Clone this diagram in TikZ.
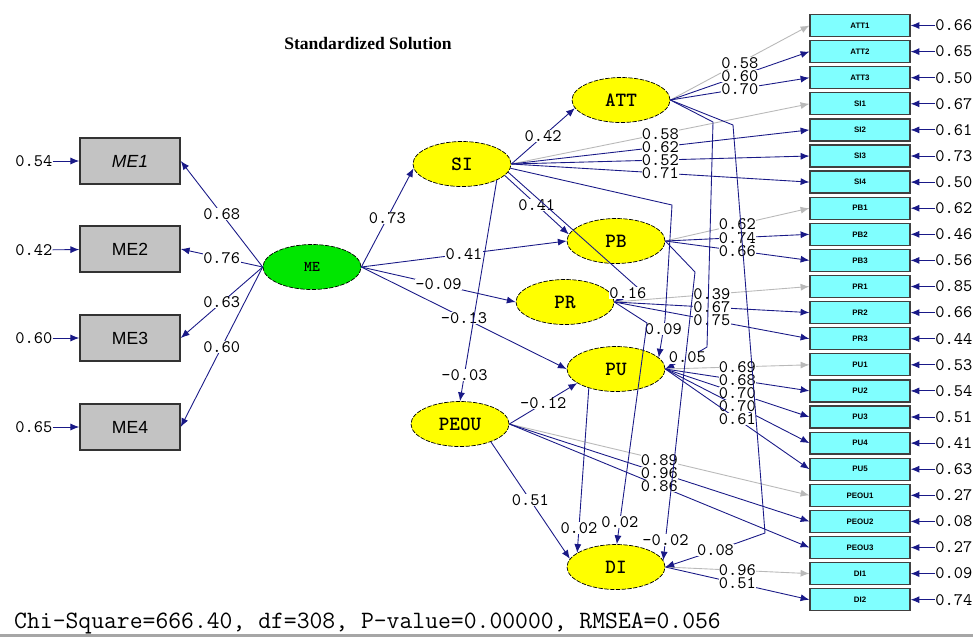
\documentclass[tikz,border=0pt]{standalone}
\usepackage{fontspec}
\setmainfont{Liberation Serif}
\newfontfamily\sansfont{Liberation Sans}
\usetikzlibrary{arrows.meta,shapes.geometric}
\definecolor{lisblue}{RGB}{25,25,135}
\definecolor{lisgray}{RGB}{185,185,185}
\definecolor{lisyellow}{RGB}{255,255,0}
\definecolor{lisgreen}{RGB}{0,230,0}
\definecolor{boxgray}{RGB}{195,195,195}
\definecolor{boxcyan}{RGB}{128,255,255}

\begin{document}
\begin{tikzpicture}[x=0.02cm, y=-0.02cm,
	lat/.style={ellipse, draw, dash pattern=on 2.5pt off 0.8pt, fill=lisyellow, minimum width=1.96cm, minimum height=0.9cm, inner sep=0pt, font=\ttfamily\bfseries\fontsize{11.5}{13}\selectfont},
	obs/.style={rectangle, draw=black!80, line width=0.9pt, fill=boxgray, minimum width=2cm, minimum height=0.92cm, font=\sansfont\fontsize{10}{12}\selectfont},
	ind/.style={rectangle, draw=black!75, line width=0.7pt, fill=boxcyan, minimum width=2cm, minimum height=0.44cm, inner sep=0pt, font=\sansfont\bfseries\fontsize{4.5}{5}\selectfont},
	lab/.style={fill=white, inner sep=0.2pt, font=\ttfamily\fontsize{10}{11}\selectfont},
	err/.style={inner sep=0pt, font=\ttfamily\fontsize{10}{11}\selectfont},
	pth/.style={draw=lisblue, line width=0.5pt, -{Latex[length=5pt,width=4pt]}},
	fix/.style={draw=lisgray, line width=0.5pt, -{Latex[length=5pt,width=4pt]}}]
	\useasboundingbox[fill=white] (0,0) rectangle (973,637);
	\fill[black!35] (0,634) rectangle (973,637);

	\node[font=\bfseries\fontsize{10}{12}\selectfont] (title) at (368,44) {Standardized Solution};
	\node[anchor=west, font=\ttfamily\fontsize{14.2}{16}\selectfont] (fit) at (8,623) {Chi-Square=666.40, df=308, P-value=0.00000, RMSEA=0.056};

	% measured variables of ME
	\node[obs] (me1) at (130,161) {\itshape ME1};
	\node[obs] (me2) at (130,249) {ME2};
	\node[obs] (me3) at (130,338) {ME3};
	\node[obs] (me4) at (130,427) {ME4};
	\node[err, anchor=west] (eme1) at (15,161) {0.54};
	\node[err, anchor=west] (eme2) at (15,250) {0.42};
	\node[err, anchor=west] (eme3) at (15,338) {0.60};
	\node[err, anchor=west] (eme4) at (15,427) {0.65};

	% latent variables
	\node[lat, fill=lisgreen, font=\ttfamily\bfseries\fontsize{8.5}{10}\selectfont] (me) at (312,267) {ME};
	\node[lat] (si) at (462,164) {SI};
	\node[lat] (att) at (621,100) {ATT};
	\node[lat] (pb) at (616,241) {PB};
	\node[lat] (pr) at (565,302) {PR};
	\node[lat] (pu) at (616,369) {PU};
	\node[lat] (peou) at (460,424) {PEOU};
	\node[lat] (di) at (616,567) {DI};

	% indicators on the right
	\foreach \n/\t/\v [count=\i from 0] in {att1/ATT1/0.66, att2/ATT2/0.65, att3/ATT3/0.50, si1/SI1/0.67, si2/SI2/0.61, si3/SI3/0.73, si4/SI4/0.50, pb1/PB1/0.62, pb2/PB2/0.46, pb3/PB3/0.56, pr1/PR1/0.85, pr2/PR2/0.66, pr3/PR3/0.44, pu1/PU1/0.53, pu2/PU2/0.54, pu3/PU3/0.51, pu4/PU4/0.41, pu5/PU5/0.63, peou1/PEOU1/0.27, peou2/PEOU2/0.08, peou3/PEOU3/0.27, di1/DI1/0.09, di2/DI2/0.74} {
		\node[ind] (\n) at (860,{25.5+26.1*\i}) {\t};
		\node[err, anchor=west] (e\n) at (935,{25.5+26.1*\i}) {\v};
		\draw[pth] (e\n) -- (\n);
	}

	\foreach \b in {me1,me2,me3,me4}
		\draw[pth] (e\b) -- (\b);

	% loadings
	\draw[pth] (me.west) -- node[lab] {0.68} (me1.east);
	\draw[pth] (me.west) -- node[lab] {0.76} (me2.east);
	\draw[pth] (me.west) -- node[lab] {0.63} (me3.east);
	\draw[pth] (me.west) -- node[lab] {0.60} (me4.east);
	\foreach \a/\b/\v/\s in {att/att1/0.58/fix, att/att2/0.60/pth, att/att3/0.70/pth,
		si/si1/0.58/fix, si/si2/0.62/pth, si/si3/0.52/pth, si/si4/0.71/pth,
		pb/pb1/0.62/fix, pb/pb2/0.74/pth, pb/pb3/0.66/pth,
		pr/pr1/0.39/fix, pr/pr2/0.67/pth, pr/pr3/0.75/pth,
		pu/pu1/0.69/fix, pu/pu2/0.68/pth, pu/pu3/0.70/pth, pu/pu4/0.70/pth, pu/pu5/0.61/pth,
		peou/peou1/0.89/fix, peou/peou2/0.96/pth, peou/peou3/0.86/pth,
		di/di1/0.96/fix, di/di2/0.51/pth}
		\draw[\s] (\a.east) -- node[lab] {\v} (\b.west);

	% structural paths
	\draw[pth] (me.east) -- node[lab] {0.73} (si.185);
	\draw[pth] (me.east) -- node[lab] {0.41} (pb.west);
	\draw[pth] (me.east) -- node[lab] {-0.09} (pr.west);
	\draw[pth] (me.east) -- node[lab] {-0.13} (pu.west);
	\draw[pth] (si.east) -- node[lab] {0.42} (att.190);
	\draw[pth] (si.-15) -- node[lab] {0.41} (pb.172);
	\draw[pth] (si.-25) -- node[lab, pos=.88] {-0.03} (peou.north);
	\draw[pth] (si.-10) -- (637,287) -- node[lab, pos=.4] {0.16} (pr.east);
	\draw[pth] (si.-5) -- (672,205) -- (665,320) -- node[lab, pos=.25] {0.09} (pu.15);
	\draw[pth] (att.east) -- (713,122) -- (707,347) -- (702,350) -- node[lab, pos=.4] {0.05} (pu.east);
	\draw[pth] (att.east) -- (733,125) -- (765,533) -- (737,543) -- node[lab, pos=.3] {0.08} (di.east);
	\draw[pth] (pb.east) -- (695,272) -- node[lab, pos=.93] {-0.02} (di.8);
	\draw[pth] (pr.east) -- (647,323) -- node[lab, pos=.9] {0.02} (di.88);
	\draw[pth] (pu.215) -- node[lab, pos=.85] {0.02} (di.160);
	\draw[pth] (peou.east) -- node[lab] {-0.12} (pu.200);
	\draw[pth] (peou.-30) -- node[lab] {0.51} (di.170);
\end{tikzpicture}
\end{document}
